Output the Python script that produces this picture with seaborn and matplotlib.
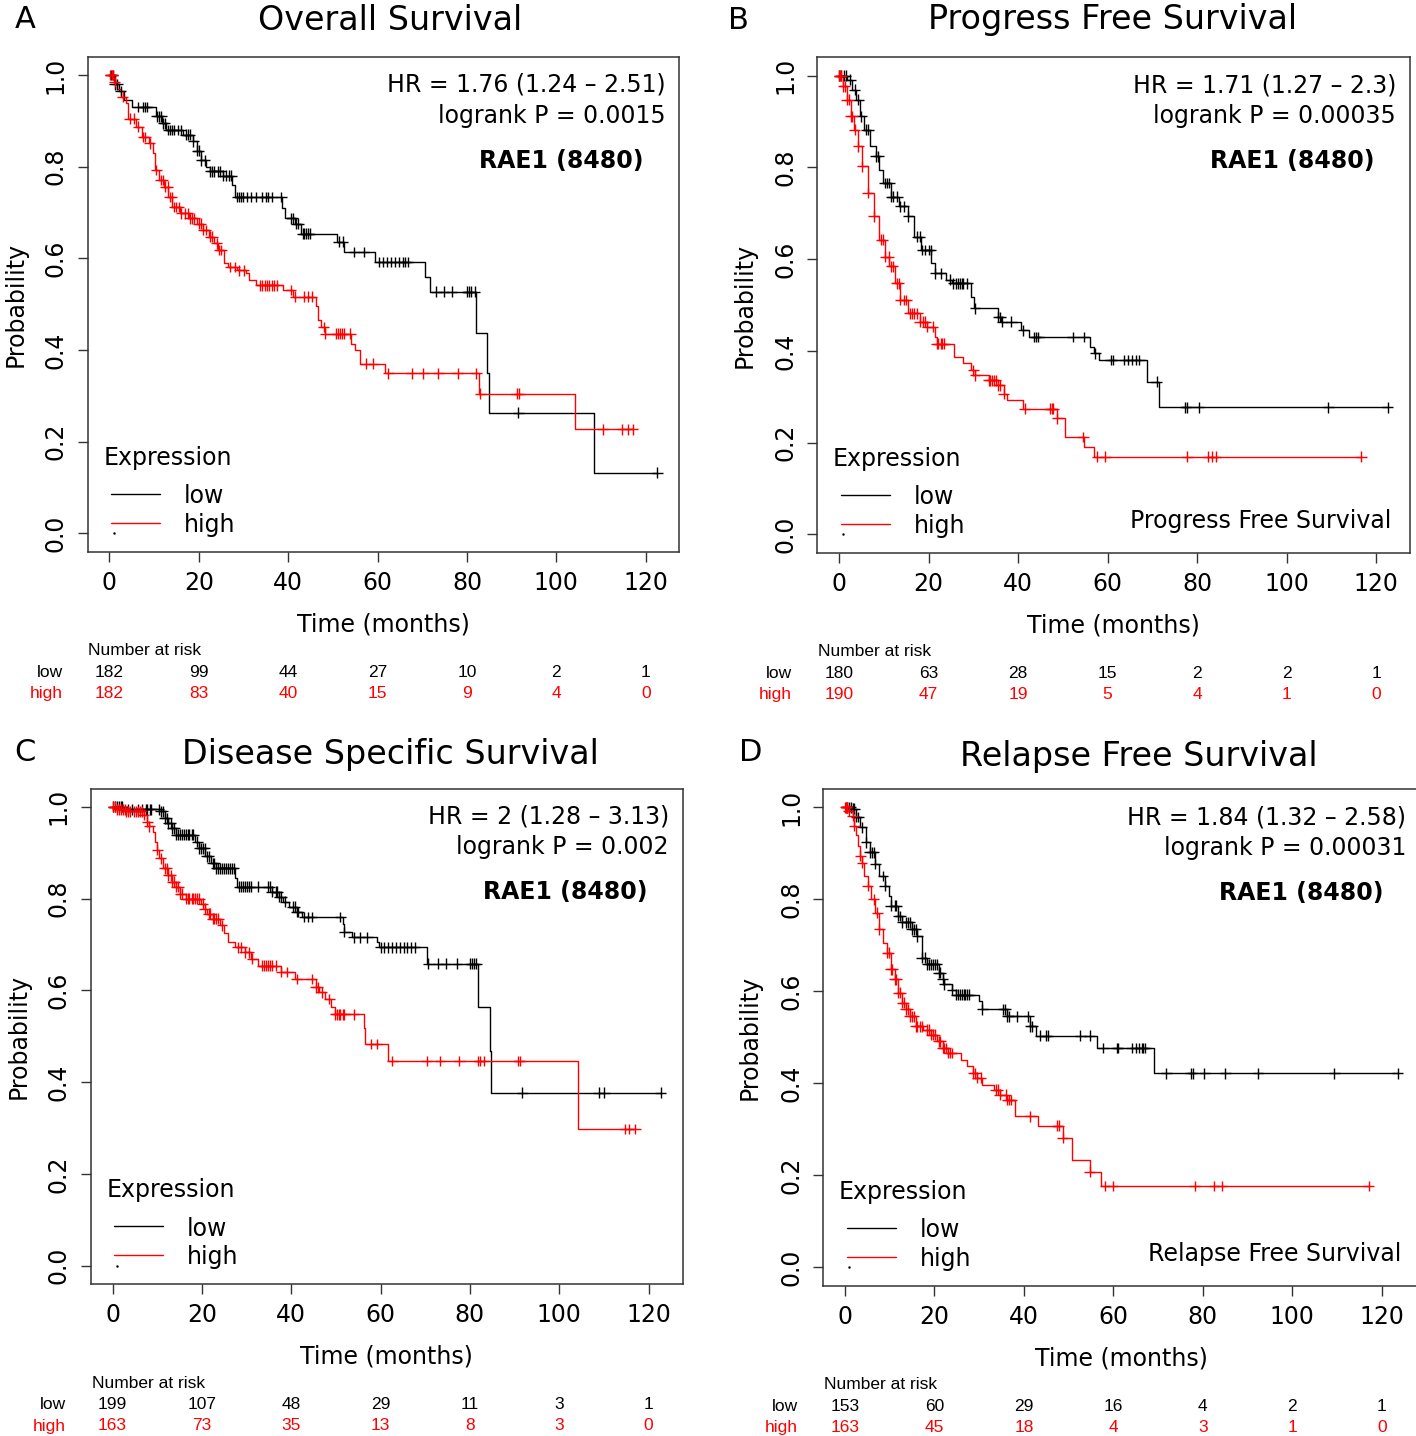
import numpy as np
import pandas as pd
import seaborn as sns
import matplotlib.pyplot as plt
from matplotlib.transforms import blended_transform_factory

W, H = 1416, 1436

# ---- A: overall survival ----
os_low_t = [0, 1.2, 2.2, 3.3, 5.0, 10.5, 11.8, 12.6, 16.5, 18.7, 19.6, 20.5, 21.5, 22.5, 25.5, 27.5, 28.0,
            38.6, 39.2, 41.5, 42.8, 50.9, 52.5, 59.4, 70.6, 71.8, 82.0, 84.4, 85.0, 108.5]
os_low_s = [1.0, 0.98, 0.965, 0.945, 0.93, 0.91, 0.895, 0.88, 0.87, 0.855, 0.835, 0.814, 0.8, 0.79, 0.78, 0.76, 0.734,
            0.709, 0.687, 0.676, 0.654, 0.636, 0.614, 0.592, 0.56, 0.527, 0.437, 0.35, 0.263, 0.132]
os_low_c = [0.3, 0.8, 1.2, 1.8, 2.5, 6.4, 7.6, 8.0, 8.5, 10.6, 11.0, 11.6, 12.0, 12.4, 13.2, 13.6, 14.0, 14.5,
            15.3, 16.0, 17.1, 17.5, 18.0, 18.8, 19.6, 20.0, 20.5, 21.3, 22.6, 23.0, 23.5, 24.2, 24.8, 25.5, 26.1,
            26.7, 27.3, 28.6, 29.0, 29.4, 29.9, 30.7, 31.6, 32.9, 34.2, 35.0, 35.5, 36.3, 38.5, 40.6, 41.0, 41.8,
            42.3, 43.2, 43.6, 44.0, 44.5, 44.9, 51.3, 52.2, 54.7, 56.9, 60.3, 61.2, 62.1, 63.0, 63.9, 64.8, 65.7,
            66.2, 66.7, 73.1, 74.8, 76.6, 80.0, 80.4, 80.8, 81.7, 91.5, 122.6]
os_high_t = [0, 1.0, 1.8, 2.5, 3.8, 4.2, 5.9, 7.2, 8.9, 9.8, 10.2, 11.1, 12.3, 13.2, 14.1, 15.8, 17.9, 19.6, 20.9,
             22.2, 23.5, 24.3, 25.6, 26.5, 28.5, 30.5, 31.2, 32.9, 38.9, 41.0, 46.2, 46.7, 47.3, 48.2, 54.0, 55.0,
             56.0, 61.6, 82.6, 104.2]
os_high_s = [1.0, 0.985, 0.97, 0.953, 0.938, 0.905, 0.887, 0.865, 0.851, 0.829, 0.793, 0.771, 0.756, 0.734, 0.712,
             0.698, 0.687, 0.676, 0.662, 0.647, 0.633, 0.618, 0.589, 0.581, 0.574, 0.567, 0.552, 0.541, 0.531, 0.516,
             0.495, 0.465, 0.45, 0.436, 0.414, 0.40, 0.37, 0.349, 0.305, 0.227]
os_high_c = [0.2, 0.5, 0.8, 1.2, 3.0, 4.5, 5.5, 6.5, 7.5, 8.0, 9.0, 10.5, 11.5, 12.0, 12.5, 13.0, 13.5, 14.0, 14.5,
             15.0, 15.5, 16.0, 17.0, 17.5, 18.0, 18.5, 19.0, 20.0, 20.5, 21.0, 21.5, 22.5, 23.0, 24.0, 24.5, 25.0,
             27.0, 28.0, 29.0, 30.0, 33.8, 34.2, 34.8, 35.3, 35.8, 36.3, 36.8, 37.6, 40.6, 41.5, 43.6, 44.5, 45.3,
             47.9, 48.3, 50.7, 51.1, 51.6, 52.0, 52.5, 53.9, 57.3, 59.0, 62.4, 67.6, 70.2, 73.6, 77.9, 82.1, 83.0,
             91.1, 91.7, 110.4, 114.7, 116.0, 117.1]

# ---- B: progress free survival ----
pfs_low_t = [0, 1.7, 3.0, 3.9, 4.7, 5.6, 6.9, 8.2, 9.0, 9.9, 11.6, 13.3, 15.4, 16.7, 18.4, 20.6, 21.4, 24.0, 25.3,
             29.5, 30.2, 35.5, 36.3, 40.7, 42.4, 56.0, 57.0, 58.1, 68.9, 71.5]
pfs_low_s = [1.0, 0.991, 0.969, 0.948, 0.911, 0.882, 0.846, 0.824, 0.795, 0.766, 0.736, 0.715, 0.693, 0.649, 0.62,
             0.591, 0.569, 0.555, 0.547, 0.518, 0.493, 0.474, 0.464, 0.445, 0.43, 0.409, 0.395, 0.38, 0.333, 0.277]
pfs_low_c = [0.1, 0.5, 1.0, 1.5, 2.5, 3.5, 4.3, 5.0, 6.0, 6.5, 8.2, 8.8, 10.2, 10.7, 11.2, 11.6, 12.0, 13.0, 13.7,
             14.5, 15.4, 17.5, 18.0, 18.6, 19.3, 20.0, 20.5, 21.5, 22.7, 24.8, 25.5, 26.1, 26.6, 27.0, 27.4, 27.8,
             28.7, 30.4, 35.5, 36.0, 36.4, 38.5, 41.1, 43.6, 44.0, 44.5, 52.2, 54.7, 57.3, 60.7, 61.2, 63.7, 64.6,
             65.4, 66.3, 67.1, 71.0, 77.4, 77.8, 80.4, 109.3, 122.6]
pfs_high_t = [0, 0.9, 1.7, 2.6, 3.4, 4.3, 5.2, 6.4, 7.7, 9.0, 10.3, 11.2, 12.4, 13.7, 15.4, 18.0, 19.7, 21.4, 21.8,
              25.7, 27.8, 29.5, 30.4, 33.4, 35.5, 36.8, 37.6, 41.1, 48.8, 50.5, 54.7, 56.9]
pfs_high_s = [1.0, 0.977, 0.948, 0.911, 0.882, 0.846, 0.802, 0.744, 0.693, 0.642, 0.605, 0.584, 0.547, 0.511, 0.482,
              0.464, 0.453, 0.431, 0.416, 0.387, 0.373, 0.358, 0.347, 0.336, 0.325, 0.307, 0.293, 0.274, 0.253,
              0.212, 0.191, 0.169]
pfs_high_c = [0.1, 0.3, 0.5, 0.9, 1.3, 1.7, 2.2, 2.6, 3.0, 3.5, 4.3, 5.2, 6.4, 7.7, 9.4, 9.8, 10.3, 11.1, 11.6,
              12.0, 12.9, 13.3, 13.7, 14.6, 15.0, 15.8, 16.2, 16.7, 17.5, 18.0, 18.8, 19.3, 19.7, 21.0, 21.8, 22.2,
              22.7, 23.1, 23.5, 30.0, 30.4, 33.4, 33.8, 34.2, 34.6, 35.1, 35.5, 35.9, 36.8, 41.5, 47.1, 47.5, 47.9,
              48.8, 54.6, 57.7, 59.5, 77.8, 82.5, 83.4, 84.2, 116.7]

# ---- C: disease specific survival ----
dss_low_t = [0, 3.5, 10.8, 11.7, 12.5, 13.4, 14.2, 18.5, 19.4, 20.7, 22.0, 23.2, 27.5, 27.9, 35.6, 37.3, 38.2,
             39.5, 41.2, 42.5, 51.5, 51.9, 53.6, 59.2, 59.6, 70.3, 81.9, 84.4, 84.7]
dss_low_s = [1.0, 0.995, 0.99, 0.975, 0.964, 0.953, 0.939, 0.924, 0.91, 0.892, 0.877, 0.866, 0.844, 0.826, 0.815,
             0.804, 0.793, 0.782, 0.771, 0.76, 0.745, 0.727, 0.716, 0.705, 0.694, 0.658, 0.563, 0.468, 0.377]
dss_low_c = [0.1, 0.5, 1.0, 1.4, 1.8, 2.2, 3.5, 4.4, 5.7, 6.5, 7.4, 7.8, 8.3, 8.7, 10.4, 10.8, 11.3, 11.7, 12.1,
             12.5, 13.0, 13.4, 13.8, 14.2, 14.7, 15.1, 15.5, 16.0, 16.4, 16.8, 17.2, 17.7, 18.1, 19.0, 19.4, 19.8,
             20.2, 20.6, 21.1, 21.5, 22.4, 22.8, 23.2, 23.7, 24.1, 24.5, 25.0, 25.4, 25.8, 26.2, 26.7, 27.1, 28.4,
             28.8, 29.3, 29.7, 30.1, 30.5, 30.9, 32.6, 34.8, 35.2, 35.6, 36.5, 36.9, 37.3, 37.8, 38.6, 40.3, 40.8,
             41.2, 41.6, 42.9, 43.8, 44.6, 51.0, 51.9, 54.0, 55.3, 57.0, 60.0, 60.8, 61.7, 62.6, 63.4, 64.3, 65.2,
             66.0, 66.9, 67.7, 70.7, 72.9, 74.6, 77.1, 80.1, 80.5, 81.0, 81.4, 91.7, 108.8, 110.1, 122.7]
dss_high_t = [0, 1.0, 3.1, 7.0, 7.8, 8.2, 9.1, 9.5, 10.0, 10.4, 11.2, 12.5, 13.4, 14.2, 15.1, 16.4, 19.8, 20.6,
              21.1, 22.4, 24.1, 25.0, 25.8, 27.5, 29.6, 30.9, 32.6, 37.8, 40.8, 45.5, 46.3, 47.6, 48.9, 49.8, 56.2,
              56.6, 61.7, 104.1]
dss_high_s = [1.0, 0.995, 0.99, 0.983, 0.968, 0.958, 0.946, 0.924, 0.906, 0.888, 0.866, 0.851, 0.837, 0.826, 0.811,
              0.80, 0.789, 0.778, 0.767, 0.756, 0.742, 0.724, 0.705, 0.694, 0.683, 0.669, 0.654, 0.64, 0.625, 0.607,
              0.596, 0.581, 0.563, 0.548, 0.519, 0.483, 0.446, 0.298]
dss_high_c = [0.2, 0.5, 1.0, 1.4, 1.8, 2.3, 2.7, 3.1, 3.5, 4.0, 4.8, 5.3, 5.7, 6.1, 6.5, 7.0, 7.8, 8.2, 10.0, 10.8,
              11.7, 12.1, 12.5, 13.0, 13.4, 13.8, 14.2, 14.7, 15.1, 15.5, 16.4, 16.8, 17.2, 17.7, 18.1, 18.5, 19.0,
              19.4, 20.2, 20.6, 21.5, 21.9, 22.4, 22.8, 23.2, 23.7, 24.5, 28.0, 28.8, 29.6, 30.5, 31.3, 33.5, 33.9,
              34.3, 34.8, 35.2, 35.6, 36.5, 37.8, 39.1, 41.2, 44.6, 45.5, 45.9, 46.8, 48.5, 49.8, 50.2, 50.6, 51.0,
              51.5, 51.9, 54.0, 57.9, 59.2, 62.6, 70.3, 73.3, 77.6, 81.9, 82.3, 83.1, 90.8, 91.3, 114.8, 115.7, 117.0]

# ---- D: relapse free survival ----
rfs_low_t = [0, 1.7, 2.5, 3.4, 4.7, 5.5, 6.8, 7.7, 8.9, 9.8, 10.2, 11.9, 12.8, 14.9, 16.2, 17.1, 18.4, 20.9, 21.8,
             22.2, 23.9, 24.8, 29.9, 30.7, 36.3, 41.4, 42.7, 56.4, 69.1]
rfs_low_s = [1.0, 0.997, 0.979, 0.957, 0.924, 0.902, 0.877, 0.851, 0.829, 0.808, 0.786, 0.764, 0.75, 0.735, 0.72,
             0.673, 0.659, 0.641, 0.626, 0.615, 0.604, 0.593, 0.579, 0.561, 0.546, 0.524, 0.504, 0.477, 0.422]
rfs_low_c = [0.4, 0.8, 1.3, 1.7, 2.1, 2.5, 3.0, 3.8, 4.7, 5.5, 6.0, 6.4, 6.8, 8.5, 8.9, 10.2, 11.1, 11.5, 11.9,
             12.4, 12.8, 13.6, 14.1, 14.5, 14.9, 15.4, 15.8, 16.2, 17.1, 17.9, 18.4, 18.8, 19.2, 19.6, 20.1, 20.5,
             20.9, 21.3, 21.8, 22.2, 23.9, 24.8, 25.2, 25.6, 26.1, 26.5, 26.9, 27.3, 27.8, 30.7, 35.4, 35.8, 36.3,
             36.7, 38.4, 41.0, 41.4, 41.9, 43.6, 44.9, 45.3, 52.6, 54.7, 57.7, 60.7, 61.1, 64.1, 65.0, 65.8, 66.3,
             66.7, 67.1, 71.8, 77.3, 77.8, 80.3, 85.0, 92.3, 109.4, 123.5]
rfs_high_t = [0, 0.8, 1.7, 2.1, 2.5, 3.0, 3.4, 3.8, 4.2, 5.1, 5.9, 6.8, 7.7, 8.5, 9.4, 10.2, 11.1, 11.9, 12.8, 13.6,
              14.5, 15.8, 17.5, 19.2, 20.5, 21.8, 23.0, 26.0, 27.3, 28.6, 29.5, 30.7, 33.3, 34.6, 36.3, 38.0, 43.1,
              48.7, 50.8, 54.7, 57.3]
rfs_high_s = [1.0, 0.993, 0.982, 0.96, 0.939, 0.917, 0.895, 0.88, 0.851, 0.829, 0.80, 0.771, 0.735, 0.706, 0.684,
              0.648, 0.626, 0.597, 0.575, 0.561, 0.546, 0.524, 0.517, 0.506, 0.491, 0.477, 0.466, 0.451, 0.437,
              0.422, 0.412, 0.397, 0.386, 0.375, 0.364, 0.328, 0.308, 0.281, 0.233, 0.208, 0.177]
rfs_high_c = [0.1, 0.2, 0.3, 0.4, 0.8, 1.7, 2.1, 3.4, 3.8, 5.1, 6.4, 7.2, 7.7, 9.4, 9.8, 10.2, 10.6, 11.1, 11.5,
              11.9, 12.4, 12.8, 13.2, 13.6, 14.1, 14.5, 14.9, 15.4, 15.8, 16.2, 16.7, 17.1, 18.4, 18.8, 19.2, 19.6,
              20.1, 20.9, 21.3, 21.8, 22.2, 22.6, 23.0, 23.5, 23.9, 28.6, 29.1, 29.5, 30.3, 33.7, 34.2, 34.6, 35.9,
              36.3, 36.7, 37.2, 41.4, 47.4, 47.8, 48.7, 54.7, 58.1, 59.8, 78.2, 82.5, 84.2, 117.1]

risk_times = [0, 20, 40, 60, 80, 100, 120]
os_risk_low = [182, 99, 44, 27, 10, 2, 1]
os_risk_high = [182, 83, 40, 15, 9, 4, 0]
pfs_risk_low = [180, 63, 28, 15, 2, 2, 1]
pfs_risk_high = [190, 47, 19, 5, 4, 1, 0]
dss_risk_low = [199, 107, 48, 29, 11, 3, 1]
dss_risk_high = [163, 73, 35, 13, 8, 3, 0]
rfs_risk_low = [153, 60, 29, 16, 4, 2, 1]
rfs_risk_high = [163, 45, 18, 4, 3, 1, 0]

panels = [
    dict(letter="A", title="Overall Survival", hr="HR = 1.76 (1.24 \u2013 2.51)", p="logrank P = 0.0015",
         low=(os_low_t, os_low_s, os_low_c), high=(os_high_t, os_high_s, os_high_c),
         risk=(os_risk_low, os_risk_high), footer=None,
         box=(87.5, 679.3, 56.7, 551.7), letter_xy=(25, 28), title_xy=(390, 30)),
    dict(letter="B", title="Progress Free Survival", hr="HR = 1.71 (1.27 \u2013 2.3)", p="logrank P = 0.00035",
         low=(pfs_low_t, pfs_low_s, pfs_low_c), high=(pfs_high_t, pfs_high_s, pfs_high_c),
         risk=(pfs_risk_low, pfs_risk_high), footer="Progress Free Survival",
         box=(817.1, 1409.6, 57.3, 552.7), letter_xy=(738, 29), title_xy=(1113, 29)),
    dict(letter="C", title="Disease Specific Survival", hr="HR = 2 (1.28 \u2013 3.13)", p="logrank P = 0.002",
         low=(dss_low_t, dss_low_s, dss_low_c), high=(dss_high_t, dss_high_s, dss_high_c),
         risk=(dss_risk_low, dss_risk_high), footer=None,
         box=(90.6, 682.6, 788.5, 1284), letter_xy=(25, 761), title_xy=(390, 764)),
    dict(letter="D", title="Relapse Free Survival", hr="HR = 1.84 (1.32 \u2013 2.58)", p="logrank P = 0.00031",
         low=(rfs_low_t, rfs_low_s, rfs_low_c), high=(rfs_high_t, rfs_high_s, rfs_high_c),
         risk=(rfs_risk_low, rfs_risk_high), footer="Relapse Free Survival",
         box=(822.9, 1419.6, 789, 1285.7), letter_xy=(751, 761), title_xy=(1139, 766)),
]

sns.set_style("ticks")
plt.rcParams['font.family'] = ['DejaVu Sans']
plt.rcParams['text.color'] = 'black'
plt.rcParams['axes.labelcolor'] = 'black'
plt.rcParams['xtick.labelcolor'] = 'black'
plt.rcParams['ytick.labelcolor'] = 'black'
colors = {"low": "black", "high": "#ff0000"}
edge = "#333333"
fs = 17

fig = plt.figure(figsize=(W / 100, H / 100), dpi=100)


def step_frame(t, s, c, group):
    # curve continues flat until the last censored patient
    tt = list(t) + [max(c)]
    ss = list(s) + [s[-1]]
    return pd.DataFrame({"time": tt, "surv": ss, "group": group})


def censor_frame(t, s, c, group):
    idx = np.searchsorted(np.array(t), np.array(c), side="right") - 1
    return pd.DataFrame({"time": c, "surv": np.array(s)[idx], "group": group})


for pn in panels:
    x0, x1, ytop, ybot = pn["box"]
    ax = fig.add_axes([x0 / W, 1 - ybot / H, (x1 - x0) / W, (ybot - ytop) / H])

    lines = pd.concat([step_frame(*pn["low"], "low"), step_frame(*pn["high"], "high")])
    cens = pd.concat([censor_frame(*pn["low"], "low"), censor_frame(*pn["high"], "high")])
    tmax = max(lines["time"])

    sns.lineplot(data=lines, x="time", y="surv", hue="group", palette=colors, estimator=None,
                 sort=False, drawstyle="steps-post", linewidth=1.0, legend=False, ax=ax)
    sns.scatterplot(data=cens, x="time", y="surv", hue="group", palette=colors, marker="+",
                    s=60, linewidth=1.0, legend=False, ax=ax, zorder=3)

    ax.set_xlim(-0.04 * tmax, tmax * 1.04)
    ax.set_ylim(-0.04, 1.04)
    ax.set_xticks(risk_times)
    ax.set_xticklabels([str(v) for v in risk_times])
    ax.set_yticks([0, 0.2, 0.4, 0.6, 0.8, 1.0])
    ax.set_yticklabels(["0.0", "0.2", "0.4", "0.6", "0.8", "1.0"], rotation=90, va="center")
    ax.tick_params(axis="both", labelsize=fs, length=7.2, width=1.0, color=edge, labelcolor="black")
    ax.tick_params(axis="x", pad=6.5)
    ax.tick_params(axis="y", pad=7)
    for sp in ax.spines.values():
        sp.set_visible(True)
        sp.set_color(edge)
        sp.set_linewidth(1.1)

    ax.set_xlabel("Time (months)", fontsize=fs, color="black")
    ax.set_ylabel("Probability", fontsize=fs, color="black")
    ax.xaxis.set_label_coords(0.5, -0.122)
    ax.yaxis.set_label_coords(-0.102, 0.5)

    ax.text(0.977, 0.929, pn["hr"], transform=ax.transAxes, ha="right", va="baseline", fontsize=fs)
    ax.text(0.977, 0.867, pn["p"], transform=ax.transAxes, ha="right", va="baseline", fontsize=fs)
    ax.text(0.94, 0.776, "RAE1 (8480)", transform=ax.transAxes, ha="right", va="baseline",
            fontsize=fs, fontweight="bold")
    if pn["footer"]:
        ax.text(0.97, 0.05, pn["footer"], transform=ax.transAxes, ha="right", va="baseline", fontsize=fs)

    # legend block
    ax.text(0.027, 0.175, "Expression", transform=ax.transAxes, va="baseline", fontsize=fs)
    ax.plot([0.040, 0.123], [0.1166, 0.1166], color=colors["low"], lw=1.0, transform=ax.transAxes)
    ax.plot([0.040, 0.123], [0.0586, 0.0586], color=colors["high"], lw=1.0, transform=ax.transAxes)
    ax.text(0.163, 0.0978, "low", transform=ax.transAxes, va="baseline", fontsize=fs)
    ax.text(0.163, 0.0404, "high", transform=ax.transAxes, va="baseline", fontsize=fs)
    ax.plot([0.044], [0.037], marker=".", ms=1.5, color="black", transform=ax.transAxes)

    # number at risk table
    tr = blended_transform_factory(ax.transData, fig.transFigure)
    rfont = dict(family="Liberation Sans", fontsize=12.5)
    fig.text((x0 + 1) / W, 1 - (ybot + 103.5) / H, "Number at risk", va="baseline", **rfont)
    fig.text((x0 - 25) / W, 1 - (ybot + 125) / H, "low", ha="right", va="baseline", **rfont)
    fig.text((x0 - 25) / W, 1 - (ybot + 146.5) / H, "high", ha="right", va="baseline",
             color=colors["high"], **rfont)
    for t, nl, nh in zip(risk_times, pn["risk"][0], pn["risk"][1]):
        ax.text(t, 1 - (ybot + 125) / H, str(nl), transform=tr, ha="center", va="baseline", **rfont)
        ax.text(t, 1 - (ybot + 146.5) / H, str(nh), transform=tr, ha="center", va="baseline",
                color=colors["high"], **rfont)

    fig.text(pn["letter_xy"][0] / W, 1 - pn["letter_xy"][1] / H, pn["letter"], ha="center",
             va="baseline", fontsize=22)
    fig.text(pn["title_xy"][0] / W, 1 - pn["title_xy"][1] / H, pn["title"], ha="center",
             va="baseline", fontsize=24)

fig.savefig("out.png", dpi=100)
